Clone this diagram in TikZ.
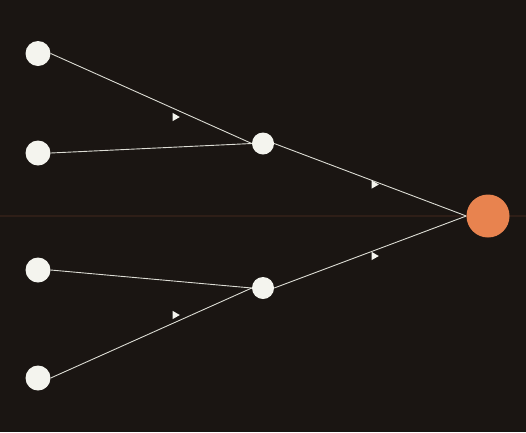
\documentclass[tikz,border=0pt]{standalone}
\definecolor{bg}{HTML}{1A1512}
\definecolor{nodew}{HTML}{F4F4EE}
\definecolor{edgec}{HTML}{DCDCD4}
\definecolor{outc}{HTML}{E8834F}
\definecolor{axisc}{HTML}{2E1E17}
\pgfdeclarelayer{bglayer}
\pgfdeclarelayer{edgelayer}
\pgfsetlayers{bglayer,edgelayer,main}
\tikzset{
  inp/.style={circle,fill=nodew,minimum size=25pt,inner sep=0pt},
  hid/.style={circle,fill=nodew,minimum size=22pt,inner sep=0pt},
  outn/.style={circle,fill=outc,minimum size=43pt,inner sep=0pt},
  conn/.style={draw=edgec,line width=0.9pt},
  axisline/.style={draw=axisc,line width=2pt},
  flowmark/.style={fill=nodew}
}
\begin{document}
\begin{tikzpicture}[x=1pt,y=-1pt]
\begin{pgfonlayer}{bglayer}
\fill[bg] (0,0) rectangle (526,432);
\end{pgfonlayer}
\useasboundingbox (0,0) rectangle (526,432);
\coordinate (axL) at (0,216);
\coordinate (axR) at (526,216);
\node[inp] (i1) at (38,53.5) {};
\node[inp] (i2) at (38,153) {};
\node[inp] (i3) at (38,270) {};
\node[inp] (i4) at (38,378) {};
\node[hid] (h1) at (263,143.5) {};
\node[hid] (h2) at (263,288) {};
\node[outn] (o) at (488,216) {};
\begin{pgfonlayer}{edgelayer}
\draw[axisline] (axL) -- (axR);
\draw[conn] (i1.east) -- (h1.west);
\draw[conn] (i2.east) -- (h1.west);
\draw[conn] (i3.east) -- (h2.west);
\draw[conn] (i4.east) -- (h2.west);
\draw[conn] (h1.east) -- (o.west);
\draw[conn] (h2.east) -- (o.west);
\end{pgfonlayer}
\foreach \x/\y in {176/117, 375/184.5, 375/256, 176/315}{
  \fill[flowmark] (\x-3.5,\y-4.2) -- (\x+3.8,\y) -- (\x-3.5,\y+4.2) -- cycle;
}
\end{tikzpicture}
\end{document}
